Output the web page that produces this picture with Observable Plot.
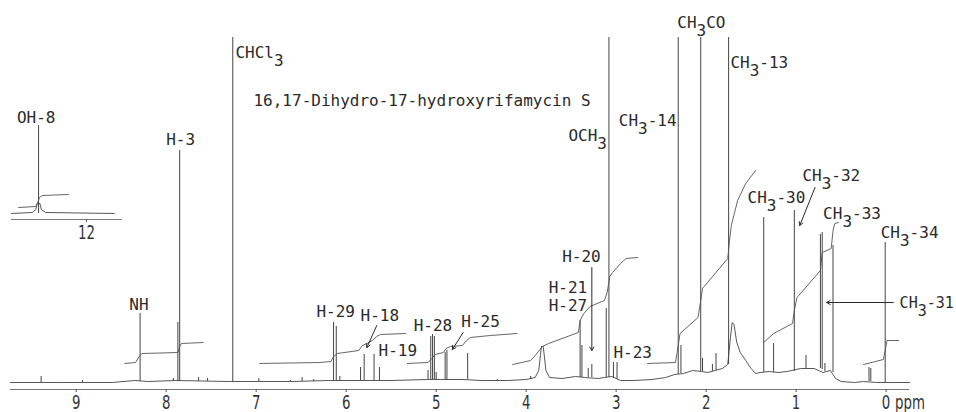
<!DOCTYPE html>
<html><head><meta charset="utf-8">
<script src="https://cdn.jsdelivr.net/npm/d3@7"></script>
<script src="https://cdn.jsdelivr.net/npm/@observablehq/plot@0.6"></script>
<style>
html,body{margin:0;padding:0;background:#fff;}
#wrap{position:relative;width:956px;height:412px;overflow:hidden;}
#wrap svg{position:absolute;left:0;top:0;}
</style>
</head><body><div id="wrap"></div>
<script>
// ---- data (ppm, intensity) ----
const tickValues = [9, 8, 7, 6, 5, 4, 3, 2, 1, 0];

// sharp peaks: [ppm, top, local base]
const peaks = [
  [9.39,6,0],[8.93,2,0],[8.29,69,1],[7.92,4,1],[7.87,60,1],[7.85,232,1],[7.64,5,1],[7.54,4,1],
  [7.26,345,1],[6.97,4,1],[6.62,2,1],[6.49,5,1],[6.36,3,1],[6.14,60,2],[6.11,56,2],[6.07,6,2],
  [5.84,15,2],[5.80,28,2],[5.69,28,2],[5.63,15,2],[5.09,12,3],[5.06,46,3],[5.04,48,3],[5.02,46,3],
  [5.00,10,3],[4.90,30,3],[4.88,32,3],[4.65,29,3],[4.32,3,2],[3.95,6,3],[3.62,4,4],[3.40,62,5],
  [3.38,37,5],[3.31,14,5],[3.27,18,5],[3.11,74,5],[3.08,345,5],[3.03,20,4],[2.99,20,3],
  [2.31,345,8],[2.28,37,9],[2.06,345,11],[2.04,24,11],[1.93,18,11],[1.89,29,12],[1.75,345,18],
  [1.36,165,10],[1.25,39,10],[1.02,172,11],[0.89,27,14],[0.73,148,14],[0.71,150,13],[0.68,19,11],
  [0.59,137,10],[0.19,15,1],[0.17,14,1],[0.01,140,0]
];

// baseline trace with broad humps: [ppm, intensity]
const baseline = [
  [9.73,0],[9.2,0],[8.6,0],[8.35,2],[8.2,1],[7.9,2],[7.3,1],[7.0,1],[6.6,1],[6.2,2],[6.0,2],
  [5.5,2],[5.1,3],[4.95,3],[4.7,3],[4.5,2],[4.2,2],[4.0,3],[3.9,5],[3.86,12],[3.83,36],[3.81,36],
  [3.78,12],[3.74,5],[3.6,4],[3.45,6],[3.35,5],[3.2,4],[3.13,5],[3.05,6],[2.95,2],[2.8,2],
  [2.6,3],[2.45,5],[2.35,8],[2.25,9],[2.15,12],[2.05,11],[1.98,10],[1.9,12],[1.82,14],[1.76,18],
  [1.73,45],[1.71,60],[1.69,58],[1.66,40],[1.62,30],[1.56,22],[1.5,14],[1.45,9],[1.4,10],
  [1.3,11],[1.2,10],[1.1,11],[0.95,14],[0.8,14],[0.7,10],[0.62,12],[0.56,4],[0.5,1],[0.35,0],
  [0.25,1],[0.1,0],[-0.05,0],[-0.26,0]
];

// integral curves: [ppm, intensity]
const integral1 = [[8.46,19],[8.34,20],[8.30,26],[8.27,29],[7.87,30],[7.85,36],[7.83,39],[7.59,40]];
const integral2 = [[6.96,19],[6.29,20],[6.17,21],[6.14,26],[6.10,29],[5.86,32],[5.82,37],[5.77,39],[5.71,42],[5.66,46],[5.62,48],[5.34,49]];
const integral3 = [[5.32,19],[5.09,20],[5.05,24],[5.01,28],[4.92,30],[4.89,34],[4.84,36],[4.71,37],[4.66,42],[4.62,45],[4.40,47],[4.10,49]];
const integral4 = [[4.15,18],[3.95,22],[3.89,28],[3.82,36],[3.75,39],[3.42,50],[3.40,62],[3.36,69],[3.29,76],[3.13,82],[3.10,90],[3.07,106],[3.04,110],[2.95,119],[2.89,124],[2.76,125]];
const integral5 = [[2.65,19],[2.34,20],[2.31,37],[2.29,49],[2.09,65],[2.06,82],[2.04,94],[1.76,124],[1.74,142],[1.72,157],[1.65,182],[1.56,199],[1.45,212]];
const integral6 = [[1.36,40],[1.25,49],[1.04,59],[1.02,72],[0.99,85],[0.73,112],[0.71,130],[0.61,134],[0.59,152],[0.57,159],[0.53,160]];
const integral7 = [[0.25,18],[0.03,23],[0.01,32],[-0.01,42],[-0.14,42]];

// peak labels: [text, ppm, intensity, size]  ("_3" = subscript 3)
const labels = [
  ["CHCl_3",7.23,330],["16,17-Dihydro-17-hydroxyrifamycin S",7.03,282],["H-3",8.00,243],
  ["NH",8.41,78],["H-29",6.33,71],["H-18",5.84,67],["H-19",5.64,32],["H-28",5.25,57],
  ["H-25",4.72,61],["H-21",3.75,95],["H-27",3.75,77],["H-20",3.60,126],["H-23",3.03,30],
  ["OCH_3",3.53,247],["CH_3-14",2.97,262],["CH_3CO",2.32,360],["CH_3-13",1.73,320],
  ["CH_3-30",1.54,185],["CH_3-32",0.93,207],["CH_3-33",0.70,169],["CH_3-34",0.06,150]
];
const edgeLabels = [["CH_3-31",-0.15,79]];

// pointer arrows: [ppm1, int1, ppm2, int2]
const arrows = [
  [5.66,57,5.77,35],[4.70,50,4.82,33],[3.27,115,3.27,32],[0.79,195,0.96,157],[-0.08,80,0.66,80]
];

// inset (OH-8)
const insetTicks = [12];
const insetBaseline = [[12.83,0],[12.60,1],[12.56,4],[12.545,10],[12.515,10],[12.50,4],[12.45,1],[11.69,0]];
const insetPeaks = [[12.53,88,0]];
const insetIntegral = [[12.75,6],[12.56,7],[12.54,11],[12.52,16],[12.49,18],[12.20,19]];
const insetLabels = [["OH-8",12.77,96]];

// ---- drawing ----
const ink = "#2a2a2a";
const digitFont = "'Liberation Sans Narrow','DejaVu Sans Condensed','Roboto Condensed','Liberation Sans',sans-serif";
const labelFont = "'DejaVu Sans Mono',monospace";

const integrals = [integral1, integral2, integral3, integral4, integral5, integral6, integral7]
  .flatMap((seg, i) => seg.map(d => ({seg: i, ppm: d[0], v: d[1]})));

function subscripts(svg) {
  d3.select(svg).selectAll("text").each(function () {
    const t = this.textContent;
    if (!t.includes("_")) return;
    const parts = t.split(/_(\d)/);
    this.textContent = "";
    const sel = d3.select(this);
    parts.forEach((p, i) => {
      const ts = sel.append("tspan").text(p);
      if (i % 2 === 1) ts.attr("dy", "0.5em");
      else if (i > 0) ts.attr("dy", "-0.5em");
    });
  });
}
// narrow the axis digits horizontally (condensed look)
function condense(svg) {
  d3.select(svg).selectAll("g[font-family*='Narrow'] text").each(function () {
    const tr = this.getAttribute("transform");
    if (tr) this.setAttribute("transform", tr + " scale(0.78,1)");
    else {
      const x = +this.getAttribute("x") || 0, y = +this.getAttribute("y") || 0;
      this.removeAttribute("x"); this.removeAttribute("y");
      this.setAttribute("transform", `translate(${x},${y}) scale(0.78,1)`);
    }
  });
}

const main = Plot.plot({
  width: 956, height: 412,
  marginLeft: 10, marginRight: 47, marginTop: 37, marginBottom: 23,
  x: {domain: [9.73, -0.26], axis: null},
  y: {domain: [-7, 345], axis: null},
  style: {fontFamily: labelFont, fontSize: "16px", background: "transparent", color: ink},
  marks: [
    Plot.ruleY([-7], {x1: 9.73, x2: -0.26, stroke: "#777", strokeWidth: 1}),
    Plot.ruleX(tickValues, {x: d => d, y1: -7, y2: -10, stroke: "#555"}),
    Plot.text(tickValues, {x: d => d, y: -20, text: d => String(d), fontFamily: digitFont, fontSize: 19, fill: "#333"}),
    Plot.text(["ppm"], {x: 0, y: -20, dx: 9, text: d => d, textAnchor: "start", fontFamily: digitFont, fontSize: 19, fill: "#333"}),
    Plot.line(baseline, {x: d => d[0], y: d => d[1], stroke: "#444", strokeWidth: 0.9}),
    Plot.ruleX(peaks, {x: d => d[0], y1: d => d[2], y2: d => d[1], stroke: "#444", strokeWidth: 1}),
    Plot.line(integrals, {x: "ppm", y: "v", z: "seg", stroke: "#555", strokeWidth: 0.9}),
    Plot.arrow(arrows, {x1: d => d[0], y1: d => d[1], x2: d => d[2], y2: d => d[3], stroke: ink, strokeWidth: 1, headLength: 6}),
    Plot.text(labels, {x: d => d[1], y: d => d[2], text: d => d[0], textAnchor: "start", fill: ink, fontSize: 16}),
    Plot.text(edgeLabels, {x: d => d[1], y: d => d[2], text: d => d[0], textAnchor: "start", fill: ink, fontSize: 15})
  ]
});
subscripts(main);
condense(main);

const inset = Plot.plot({
  width: 130, height: 260,
  marginLeft: 11, marginRight: 8, marginTop: 125, marginBottom: 41,
  x: {domain: [12.83, 11.6], axis: null},
  y: {domain: [-6, 88], axis: null},
  style: {fontFamily: labelFont, fontSize: "16px", background: "transparent", color: ink},
  marks: [
    Plot.ruleY([-6], {x1: 12.83, x2: 11.6, stroke: "#777"}),
    Plot.ruleX(insetTicks, {x: d => d, y1: -6, y2: -9, stroke: "#555"}),
    Plot.text(insetTicks, {x: d => d, y: -19, text: d => String(d), fontFamily: digitFont, fontSize: 19, fill: "#333"}),
    Plot.line(insetBaseline, {x: d => d[0], y: d => d[1], stroke: "#444", strokeWidth: 0.9}),
    Plot.ruleX(insetPeaks, {x: d => d[0], y1: d => d[2], y2: d => d[1], stroke: "#444"}),
    Plot.line(insetIntegral, {x: d => d[0], y: d => d[1], stroke: "#555", strokeWidth: 0.9}),
    Plot.text(insetLabels, {x: d => d[1], y: d => d[2], text: d => d[0], textAnchor: "start", fill: ink, fontSize: 16})
  ]
});
condense(inset);

const wrap = document.getElementById("wrap");
wrap.appendChild(main);
wrap.appendChild(inset);
</script>
</body></html>
